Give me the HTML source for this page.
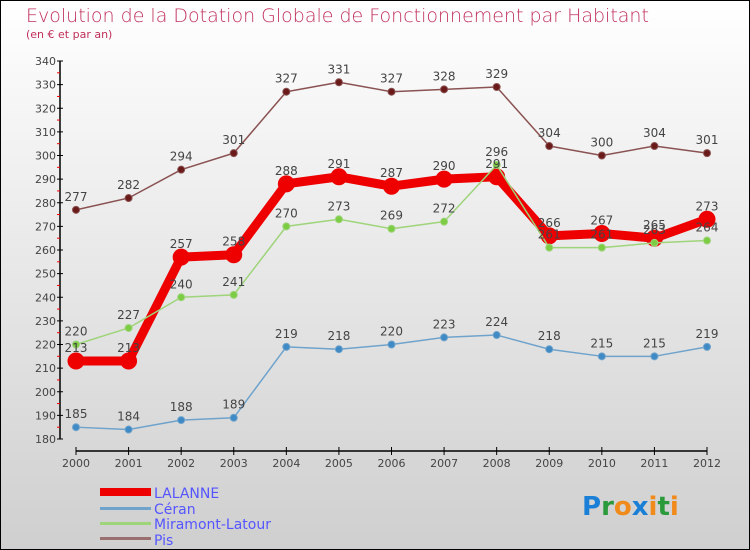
<!DOCTYPE html>
<html><head><meta charset="utf-8"><style>
body{margin:0;width:750px;height:550px;overflow:hidden}
svg{display:block;font-family:"DejaVu Sans","Liberation Sans",sans-serif}
</style></head><body>
<svg id="chart" width="750" height="550" xmlns="http://www.w3.org/2000/svg">
<defs><linearGradient id="bg" x1="0" y1="0" x2="0" y2="1"><stop offset="0" stop-color="#ffffff"/><stop offset="1" stop-color="#cfcfcf"/></linearGradient></defs>
<rect x="0.5" y="0.5" width="749" height="549" fill="url(#bg)" stroke="#000"/>
<text x="26" y="22" font-size="19" fill="#c0305a" font-weight="200">Evolution de la Dotation Globale de Fonctionnement par Habitant</text>
<text x="26" y="38" font-size="11" fill="#c0305a">(en € et par an)</text>
<g id="axes"></g><g id="series"></g><g id="labels"></g>
<g>
<rect x="100" y="488" width="51" height="8" fill="#e00"/>
<text x="154" y="498" font-size="14" fill="#5555ff">LALANNE</text>
<rect x="100" y="507" width="51" height="3" fill="#6fa3cc"/>
<text x="154" y="514" font-size="14" fill="#5555ff">Céran</text>
<rect x="100" y="522" width="51" height="3" fill="#9ed47a"/>
<text x="154" y="529" font-size="14" fill="#5555ff">Miramont-Latour</text>
<rect x="100" y="537" width="51" height="3" fill="#9a6f6f"/>
<text x="154" y="545" font-size="14" fill="#5555ff">Pis</text>
</g>
<text x="582" y="515" font-size="26" font-weight="bold"><tspan fill="#1a7fd6">P</tspan><tspan fill="#2a9a3a">r</tspan><tspan fill="#f08a1a">o</tspan><tspan fill="#1a7fd6">x</tspan><tspan fill="#f08a1a">i</tspan><tspan fill="#2a9a3a">t</tspan><tspan fill="#f08a1a">i</tspan></text>
</svg>
<script>
const years=[2000,2001,2002,2003,2004,2005,2006,2007,2008,2009,2010,2011,2012];
const lalanne=[213,213,257,258,288,291,287,290,291,266,267,265,273];
const ceran=[185,184,188,189,219,218,220,223,224,218,215,215,219];
const miramont=[220,227,240,241,270,273,269,272,296,261,261,263,264];
const pis=[277,282,294,301,327,331,327,328,329,304,300,304,301];
const yTicks=[180,190,200,210,220,230,240,250,260,270,280,290,300,310,320,330,340];
const NS="http://www.w3.org/2000/svg";
const x=i=>76+i*(707-76)/(years.length-1);
const y=v=>439-(v-180)*(439-61)/160;
function mk(tag,attrs,parent){const e=document.createElementNS(NS,tag);for(const k in attrs)e.setAttribute(k,attrs[k]);parent.appendChild(e);return e;}
const ax=document.getElementById('axes'),sg=document.getElementById('series'),lg=document.getElementById('labels');
let a=mk('line',{x1:60,y1:y(340),x2:60,y2:y(180),stroke:'#000','stroke-width':1.5},ax);


a=mk('line',{x1:x(0),y1:451,x2:x(12),y2:451,stroke:'#000','stroke-width':1.5},ax);


yTicks.forEach(v=>{
 mk('line',{x1:57,y1:y(v),x2:63,y2:y(v),stroke:'#000'},ax);
 if(v<340)mk('line',{x1:57,y1:y(v+5),x2:60,y2:y(v+5),stroke:'#e00'},ax);
 const t=mk('text',{x:56,y:y(v)+4,'font-size':11,fill:'#444','text-anchor':'end'},ax);
 t.textContent=v;
 
 
});
years.forEach((yr,i)=>{
 mk('line',{x1:x(i),y1:447,x2:x(i),y2:455,stroke:'#000'},ax);
 const t=mk('text',{x:x(i),y:467,'font-size':11,fill:'#444','text-anchor':'middle'},ax);
 t.textContent=yr;
 
 
});
function series(name,data,color,w,r,dot){
 const p=mk('polyline',{points:data.map((v,i)=>x(i)+','+y(v)).join(' '),fill:'none',stroke:color,'stroke-width':w,'stroke-linejoin':'round'},sg);
 
 
 data.forEach((v,i)=>{
  const c=mk('circle',{cx:x(i),cy:y(v),r:r,fill:dot,stroke:color,'stroke-width':1},sg);
  
  
  const t=mk('text',{x:x(i),y:y(v)-9,'font-size':12,fill:'#444','text-anchor':'middle'},lg);
  t.textContent=v;
  
  
 });
}
series('lalanne',lalanne,'#ee0000',9,8,'#ee0000');
series('ceran',ceran,'#6fa3cc',1.5,3.5,'#3f8ac4');
series('miramont',miramont,'#9ed47a',1.5,3.5,'#7ccc44');
series('pis',pis,'#8a5252',1.5,3.5,'#6b1a1a');
</script>
</body></html>
